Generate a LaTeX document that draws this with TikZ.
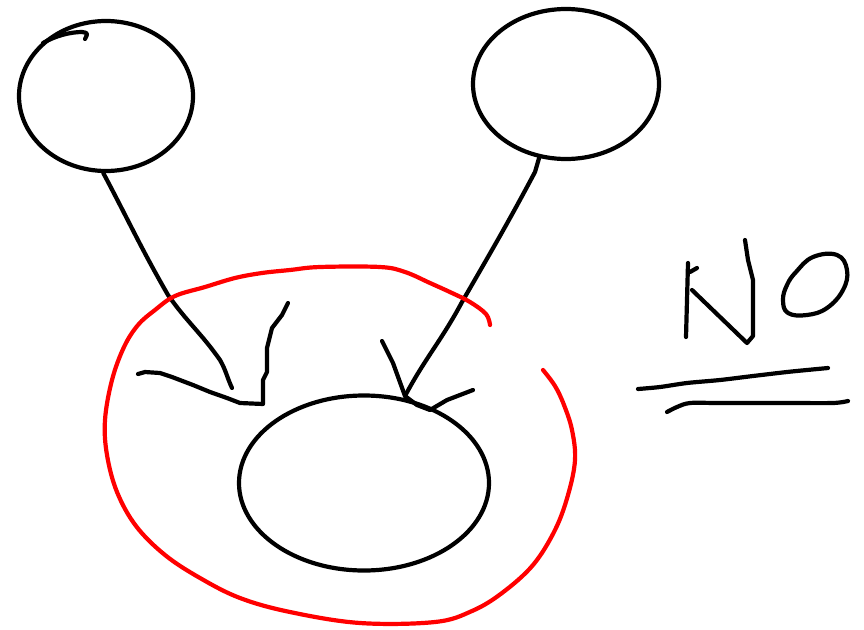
\documentclass[tikz,border=0pt]{standalone}
\usetikzlibrary{shapes.geometric}
\begin{document}
\begin{tikzpicture}[x=1pt,y=-1pt,
  ink/.style={line width=4.2pt,line cap=round,line join=round,black},
  redink/.style={line width=4.2pt,line cap=round,line join=round,red},
  blob/.style={ellipse,draw,ink,inner sep=0pt}]
\useasboundingbox (0,0) rectangle (864,629);
% circles
\node[blob,minimum width=174pt,minimum height=150pt] (tl) at (106,96) {};
\node[blob,minimum width=186pt,minimum height=150pt] (tr) at (566,84) {};
\node[blob,minimum width=250pt,minimum height=175pt] (bot) at (364,483) {};
% hook on top-left circle
\draw[ink] (43,43) .. controls (55,36) and (70,32) .. (82,32) .. controls (88,33) .. (85,39);
% connectors
\coordinate (lend) at (232,388);
\coordinate (rend) at (405,396);
\draw[ink] (tl.-92) to[out=-62,in=120] (168,295) to[out=-55,in=125] (220,360) to[out=-60,in=115] (lend);
\draw[ink] (tr.-110) -- (535,172) to[out=-118,in=60] (462,302) to[out=-118,in=62] (rend);
% left fork
\coordinate (lf) at (263,404);
\draw[ink] (138,374) -- (145,372) -- (160,373) -- (172,377) -- (193,385) -- (210,392) -- (227,398) -- (240,403) -- (lf)
  -- (263,380) -- (267,372) -- (267,348) -- (272,328) -- (282,315) -- (288,303);
% right fork
\draw[ink] (382,341) -- (393,363) -- (rend) -- (417,405) -- (430,410) -- (447,400) -- (473,390);
% red open loop
\draw[redink] plot[smooth,tension=0.6] coordinates {(490,325) (486,314) (470,302) (452,293) (430,283) (405,272) (380,267) (320,267) (290,270) (262,273) (235,278) (205,287) (175,296) (155,310) (138,325) (124,347) (112,380) (105,420) (107,455) (117,492) (136,526) (165,555) (200,578) (240,598) (290,612) (360,623) (435,622) (472,611) (502,593) (533,565) (555,530) (568,495) (575,460) (572,430) (564,405) (555,386) (543,370)};
% No sign
\draw[ink] (686,337) -- (687,300) -- (688,263);
\draw[ink] (690,272) -- (697,268);
\draw[ink] (692,290) -- (747,343) -- (753,336) -- (753,280) -- (748,260) -- (745,240);
\draw[ink] plot[smooth cycle,tension=0.7] coordinates {(813,257) (837,255) (847,270) (843,290) (827,308) (807,315) (788,313) (783,300) (787,285) (796,272)};
\draw[ink] plot[smooth,tension=0.5] coordinates {(638,389) (660,387) (687,383) (720,380) (753,376) (787,372) (807,370) (828,368)};
\draw[ink] plot[smooth,tension=0.5] coordinates {(667,412) (677,407) (690,403) (720,403) (787,403) (833,403) (848,401)};
\end{tikzpicture}
\end{document}
